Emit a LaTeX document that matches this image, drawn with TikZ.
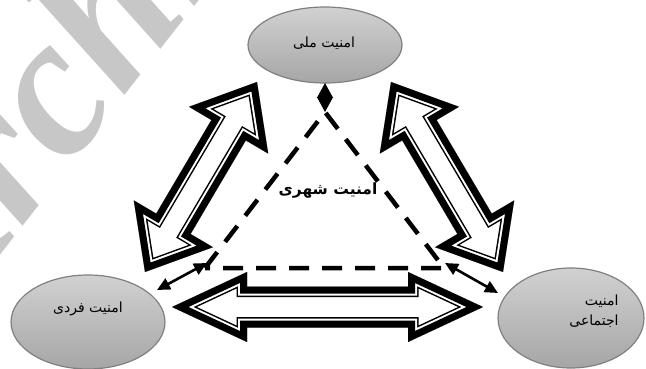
\documentclass[tikz,border=0pt]{standalone}
\usepackage{fontspec}
\newfontfamily\fa[Script=Arabic]{DejaVu Sans}
\newfontfamily\wmfont{Liberation Serif}
\TeXXeTstate=1
\usetikzlibrary{arrows.meta,shapes.geometric}
\newcommand\cmpdarrow[1]{%
  \begin{scope}
    \clip #1;
    \fill[white] #1;
    \draw[line width=21pt, black, miter limit=20] #1;
    \draw[line width=18pt, white, miter limit=20] #1;
    \draw[line width=14pt, black, miter limit=20] #1;
  \end{scope}}
\tikzset{
  ell/.style={ellipse, draw=black!50, line width=1.2pt, top color=black!18, middle color=black!3, bottom color=black!35, inner sep=0pt},
  lbl/.style={font=\fa\fontsize{14}{18}\selectfont, inner sep=0pt},
  link/.style={line width=2.6pt, {Triangle[length=13pt,width=12pt]}-{Triangle[length=13pt,width=12pt]}},
  vlink/.style={line width=1pt, {Triangle[length=15pt,width=16pt]}-{Triangle[length=15pt,width=16pt]}},
  tri/.style={line width=4.5pt, dash pattern=on 20pt off 13pt},
  wm/.style={rotate=52, anchor=base west, text=black!22, inner sep=0pt, font=\wmfont\fontsize{200}{200}\selectfont\bfseries\itshape}
}
\begin{document}
\begin{tikzpicture}[x=1pt,y=-1pt, line join=miter]
\useasboundingbox (0,0) rectangle (646,369);
\begin{scope}
  \clip (0,0) rectangle (646,369);
  \node[wm] (watermark) at (-62,335) {Archive of SID};
\end{scope}
% ellipses
\node[ell, minimum width=154pt, minimum height=76pt] (meli) at (325,45) {};
\node[ell, minimum width=154pt, minimum height=94pt] (fardi) at (88,322) {};
\node[ell, minimum width=146pt, minimum height=100pt] (ejt) at (571,318) {};
% block arrows
\cmpdarrow{(172,307) -- (247,272) -- (247,286.5) -- (408,286.5) -- (408,272) -- (483,307) -- (408,342) -- (408,327.5) -- (247,327.5) -- (247,342) -- cycle}
\cmpdarrow{(145,272) -- (213.0,247.2) -- (190.6,234.0) -- (245.8,140.4) -- (268.2,153.6) -- (257,82) -- (189.0,106.8) -- (211.4,120.0) -- (156.2,213.6) -- (133.8,200.4) -- cycle}
\cmpdarrow{(503,272) -- (435.0,247.2) -- (457.4,234.0) -- (402.2,140.4) -- (379.8,153.6) -- (391,82) -- (459.0,106.8) -- (436.6,120.0) -- (491.8,213.6) -- (514.2,200.4) -- cycle}
% dashed triangle
\coordinate (apex) at (325,112);
\coordinate (vl) at (205,268);
\coordinate (vr) at (444,268);
\draw[tri] (vl) -- (apex) -- (vr) -- cycle;
% small arrows
\coordinate (meliB) at (325,83);
\coordinate (fardiB) at (157,290);
\coordinate (tlA) at (207,263);
\coordinate (ejtB) at (498,293);
\coordinate (trA) at (445,263);
\draw[vlink] (meliB) -- (apex);
\draw[link] (fardiB) -- (tlA);
\draw[link] (trA) -- (ejtB);
% labels
\node[lbl] (tmeli) at (324,43) {\beginR امنیت ملی\endR};
\node[lbl] (tfardi) at (88,309) {\beginR امنیت فردی\endR};
\node[lbl, align=right, font=\fa\fontsize{14}{20}\selectfont] (tejt) at (594,311) {\beginR امنیت\endR\\\beginR اجتماعی\endR};
\node[lbl, font=\fa\bfseries\fontsize{15.5}{18}\selectfont] (tshahri) at (328,191) {\beginR امنیت شهری\endR};
\end{tikzpicture}
\end{document}
